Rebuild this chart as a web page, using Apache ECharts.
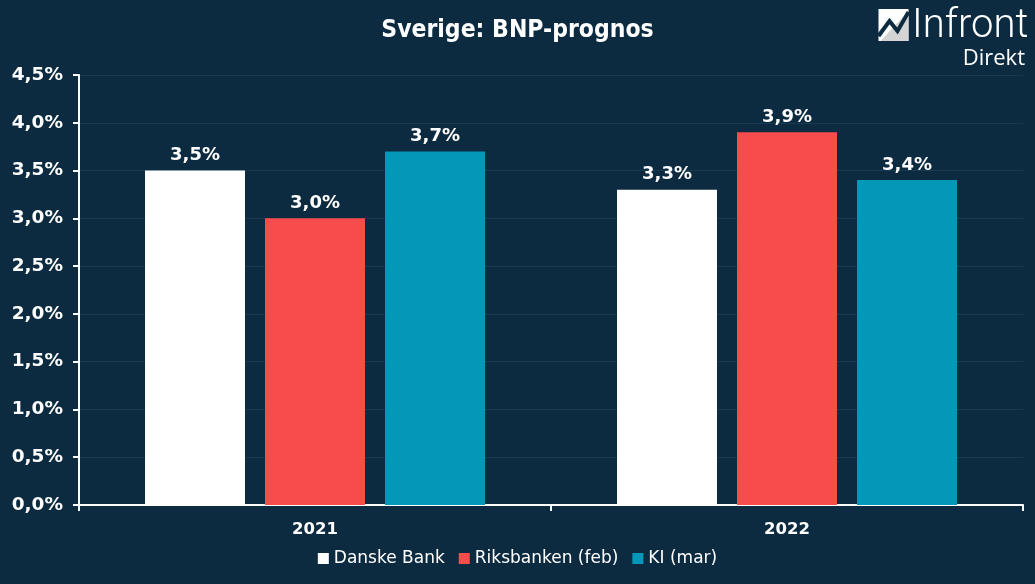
<!DOCTYPE html>
<html><head><meta charset="utf-8">
<script src="https://cdn.jsdelivr.net/npm/echarts@6/dist/echarts.min.js"></script>
<style>html,body{margin:0;padding:0;background:#0c2b40;}#c{width:1035px;height:584px;}</style>
</head><body><div id="c"></div>
<script>
const categories = ['2021', '2022'];
const seriesNames = ['Danske Bank', 'Riksbanken (feb)', 'KI (mar)'];
const danske = [3.5, 3.3];
const riksbanken = [3.0, 3.9];
const ki = [3.7, 3.4];
const colors = ['#ffffff', '#f64c4c', '#0597b8'];
const fmt = v => v.toFixed(1).replace('.', ',') + '%';
const chart = echarts.init(document.getElementById('c'));
const font = '"DejaVu Sans", Verdana, sans-serif';
const mk = (name, data, i) => ({
  name, type: 'bar', data, barWidth: 100, barGap: '20%',
  itemStyle: { color: colors[i] },
  label: { show: true, position: 'top', distance: 6, color: '#ffffff', fontFamily: font, fontWeight: 'bold', fontSize: 18, formatter: p => fmt(p.value) }
});
chart.setOption({
  backgroundColor: '#0c2b40',
  animation: false,
  title: { text: 'Sverige: BNP-prognos', left: 'center', top: 13,
    textStyle: { color: '#ffffff', fontFamily: '"DejaVu Sans Condensed", "DejaVu Sans", sans-serif', fontWeight: 'bold', fontSize: 24.5 } },
  grid: { left: 79, right: 12, top: 75, bottom: 79 },
  legend: { bottom: 12, left: 'center', itemWidth: 11, itemHeight: 11, itemGap: 14, icon: 'rect',
    textStyle: { color: '#ffffff', fontFamily: font, fontSize: 17 }, data: seriesNames },
  xAxis: { type: 'category', data: categories,
    axisLine: { lineStyle: { color: '#ffffff', width: 2 } },
    axisTick: { show: true, length: 6, lineStyle: { color: '#ffffff', width: 2 } },
    axisLabel: { color: '#ffffff', fontFamily: font, fontWeight: 'bold', fontSize: 16.5, margin: 16 } },
  yAxis: { type: 'value', min: 0, max: 4.5, interval: 0.5,
    axisLine: { show: true, lineStyle: { color: '#ffffff', width: 2 } },
    axisTick: { show: true, length: 6, lineStyle: { color: '#ffffff', width: 2 } },
    splitLine: { lineStyle: { color: '#163a52', width: 1 } },
    axisLabel: { color: '#ffffff', fontFamily: font, fontWeight: 'bold', fontSize: 18.5, margin: 16, formatter: v => fmt(v) } },
  series: [mk(seriesNames[0], danske, 0), mk(seriesNames[1], riksbanken, 1), mk(seriesNames[2], ki, 2)],
  graphic: [
    { type: 'group', left: 876, top: 9, children: [
      { type: 'polygon', shape: { points: [[0,0],[30,0],[30,32],[0,32]] }, style: { fill: '#ffffff' } },
      { type: 'polygon', shape: { points: [[30,2],[30,32],[2,32]] }, style: { fill: '#d4d4d4' } },
      { type: 'polyline', shape: { points: [[0,27],[11,12],[19,22],[30,3]] }, style: { stroke: '#0c2b40', lineWidth: 4, fill: null } }
    ]},
    { type: 'text', left: 912, top: 7, style: { text: 'Infront', fill: '#ffffff', font: '300 40px Roboto, "Open Sans", sans-serif' } },
    { type: 'text', right: 10, top: 48, style: { text: 'Direkt', fill: '#ffffff', font: '22px "Open Sans", "DejaVu Sans", sans-serif' } }
  ]
});
</script></body></html>
